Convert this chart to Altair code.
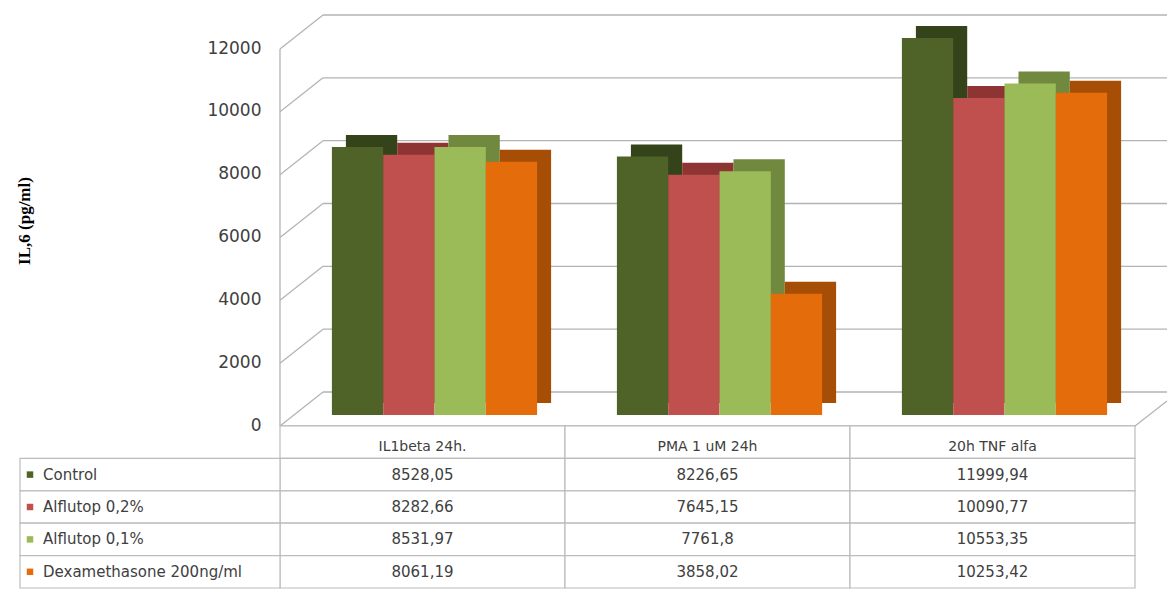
import altair as alt
import pandas as pd

# ---------------- data ----------------
categories = ["IL1beta 24h.", "PMA 1 uM 24h", "20h TNF alfa"]
series = ["Control", "Alflutop 0,2%", "Alflutop 0,1%", "Dexamethasone 200ng/ml"]
control = [8528.05, 8226.65, 11999.94]
alflutop_02 = [8282.66, 7645.15, 10090.77]
alflutop_01 = [8531.97, 7761.8, 10553.35]
dexamethasone = [8061.19, 3858.02, 10253.42]
y_ticks = [0, 2000, 4000, 6000, 8000, 10000, 12000]
y_title = "IL,6 (pg/ml)"

# ---------------- styles ----------------
front_colors = ["#4F6228", "#C0504D", "#9BBB59", "#E46C0A"]
depth_colors = ["#34431A", "#8E3533", "#71893F", "#A64E05"]
GRID = "#b3b3b3"
TABLE_LINE = "#bcbcbc"
TXT = "#404040"
W, H = 855, 377
TABLE_H = 162

values_by_series = [control, alflutop_02, alflutop_01, dexamethasone]
records = []
for s, vals in zip(series, values_by_series):
    for c, v in zip(categories, vals):
        records.append({"category": c, "series": s, "row": s, "value": v,
                        "label": str(v).replace(".", ",")})
df = pd.DataFrame(records)
ticks_df = pd.DataFrame({"tick": y_ticks})
frame_df = pd.DataFrame({"top": [y_ticks[-1]], "bottom": [y_ticks[0]]})

y_scale = alt.Scale(domain=[y_ticks[0], y_ticks[-1]], nice=False)
y_axis = alt.Axis(values=y_ticks, format="d", grid=False, domain=False, ticks=False,
                  labelPadding=19, labelOffset=10, labelFont="DejaVu Sans",
                  labelFontSize=17, labelColor=TXT, title=y_title,
                  titleFont="Liberation Serif", titleFontSize=17,
                  titleFontWeight="bold", titleColor="#000000",
                  titleX=-256, titleY=H / 2 - 6, titleAngle=270,
                  titleAlign="center", titleBaseline="middle")


def Y(field):
    return alt.Y(f"{field}:Q", scale=y_scale, axis=y_axis)


grid_back = alt.Chart(ticks_df).mark_rule(color=GRID, strokeWidth=1.3, yOffset=-23).encode(
    y=Y("tick"), x=alt.value(43), x2=alt.value(887))
slants = alt.Chart(ticks_df).mark_rule(color=GRID, strokeWidth=1.2, yOffset=11, y2Offset=-23).encode(
    y=Y("tick"), y2=alt.Y2("tick:Q"), x=alt.value(0), x2=alt.value(43))
front_v = alt.Chart(frame_df).mark_rule(color=GRID, strokeWidth=1.3, yOffset=11, y2Offset=11).encode(
    x=alt.value(0), y=Y("top"), y2=alt.Y2("bottom:Q"))
floor = alt.Chart(frame_df).mark_rule(color=GRID, strokeWidth=1.3, yOffset=11).encode(
    y=Y("bottom"), x=alt.value(0), x2=alt.value(W))
right_slant = alt.Chart(frame_df).mark_rule(color=GRID, strokeWidth=1.2, yOffset=11, y2Offset=-14).encode(
    y=Y("bottom"), y2=alt.Y2("bottom:Q"), x=alt.value(W), x2=alt.value(887))


def bar_x(shift):
    return alt.X("category:N", sort=categories, axis=None,
                 scale=alt.Scale(range=[shift, shift + W], paddingInner=0.28, paddingOuter=0.14))


x_off = alt.XOffset("series:N", sort=series, scale=alt.Scale(paddingInner=0, paddingOuter=0))

back_bars = alt.Chart(df).mark_bar(yOffset=-12, y2Offset=-12).encode(
    x=bar_x(26), xOffset=x_off, y=Y("value"),
    fill=alt.Fill("series:N", sort=series, legend=None,
                  scale=alt.Scale(domain=series, range=depth_colors)))
front_bars = alt.Chart(df).mark_bar().encode(
    x=bar_x(12), xOffset=x_off, y=Y("value"),
    color=alt.Color("series:N", sort=series, legend=None,
                    scale=alt.Scale(domain=series, range=front_colors)))

top = alt.layer(grid_back, slants, front_v, floor, right_slant, back_bars, front_bars).resolve_scale(
    x="independent", xOffset="independent").properties(width=W, height=H)

# ---------------- table ----------------
row_order = ["header"] + series
cells_df = pd.DataFrame([{"category": c, "row": r} for c in categories for r in row_order])
header_df = pd.DataFrame([{"category": c, "row": "header"} for c in categories])
names_df = pd.DataFrame({"row": series})

tx = alt.X("category:N", sort=categories, axis=None,
           scale=alt.Scale(paddingInner=0, paddingOuter=0))
ty = alt.Y("row:N", sort=row_order, axis=None,
           scale=alt.Scale(domain=row_order, paddingInner=0, paddingOuter=0))

cells = alt.Chart(cells_df).mark_rect(fill="white", stroke=TABLE_LINE, strokeWidth=1.2).encode(x=tx, y=ty)
header_text = alt.Chart(header_df).mark_text(font="DejaVu Sans", fontSize=14, color=TXT, dy=5).encode(
    x=tx, y=ty, text="category:N")
value_text = alt.Chart(df).mark_text(font="DejaVu Sans", fontSize=15, color=TXT).encode(
    x=tx, y=ty, text="label:N")
name_cells = alt.Chart(names_df).mark_rect(fill="white", stroke=TABLE_LINE, strokeWidth=1.2).encode(
    x=alt.value(-260), x2=alt.value(0), y=ty)
squares = alt.Chart(names_df).mark_square(size=42, opacity=1).encode(
    x=alt.value(-250), y=ty,
    color=alt.Color("row:N", sort=series, legend=None,
                    scale=alt.Scale(domain=series, range=front_colors)))
names_text = alt.Chart(names_df).mark_text(align="left", font="DejaVu Sans", fontSize=15, color=TXT).encode(
    x=alt.value(-237), y=ty, text="row:N")

table = alt.layer(cells, header_text, value_text, name_cells, squares, names_text).properties(
    width=W, height=TABLE_H)

chart = alt.vconcat(top, table, spacing=11, bounds="flush").configure_view(stroke=None).properties(
    padding={"left": 15, "top": 14, "right": 0, "bottom": 0}, background="white")

chart.save("out.html", embed_options={"renderer": "svg", "actions": False})
